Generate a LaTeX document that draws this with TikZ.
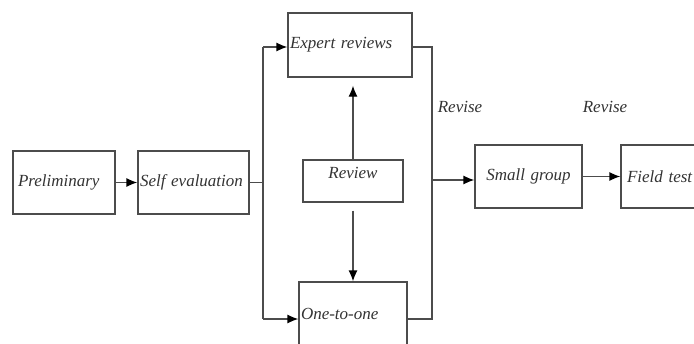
\documentclass[tikz,border=0pt]{standalone}
\usepackage{fontspec}
\setmainfont{Liberation Serif}
\usetikzlibrary{positioning}
\usetikzlibrary{arrows.meta}

\begin{document}
\begin{tikzpicture}[x=1pt, y=-1pt,
		stage/.style={draw=black!70, line width=1.3pt, inner xsep=2pt, align=left,
			font=\fontsize{17}{20}\selectfont\itshape, text=black!80},
		note/.style={font=\fontsize{17}{20}\selectfont\itshape, text=black!80},
		wire/.style={draw=black!70, line width=1.3pt},
		flow/.style={wire, -{Latex[length=11pt,width=9pt,black]}}
		]
		\useasboundingbox (0,0) rectangle (694,343);
		\clip (0,0) rectangle (694,343);
		
		\node[stage, text width=98pt, minimum height=63pt] (prelim) at (64,182.5) {\hspace{3pt}Preliminary};
		\node[stage, text width=107pt, minimum height=63pt] (selfev) at (193.5,182.5) {Self evaluation};
		\node[stage, text width=120pt, minimum height=64pt] (expert) at (350,45) {Expert reviews};
		\node[stage, text width=96pt, minimum height=42pt, align=center, text depth=16pt] (review) at (353,181) {Review};
		\node[stage, text width=104pt, minimum height=64pt] (onetoone) at (353,314) {One-to-one};
		\node[stage, text width=103pt, minimum height=63pt, align=center] (small) at (528.5,176.5) {Small group};
		\node[stage, text width=103pt, minimum height=63pt] (field) at (674.5,176.5) {\hspace{4pt}Field test};
		
		%revise labels
		\node[note] (revise1) at (460,107) {Revise};
		\node[note] (revise2) at (605,107) {Revise};
		
		%split and merge points
		\coordinate (splittop) at (263,47);
		\coordinate (splitbot) at (263,319);
		\coordinate (mergetop) at (432,47);
		\coordinate (mergebot) at (432,319);
		\coordinate (merge) at (432,180);
		
		\draw[flow] (prelim) -- (selfev);
		\draw[wire] (selfev.east) -- (selfev.east -| splittop);
		\draw[wire] (splittop) -- (splitbot);
		\draw[flow] (splittop) -- (splittop -| expert.west);
		\draw[flow] (splitbot) -- (splitbot -| onetoone.west);
		
		\draw[flow, shorten >=8pt] (review.north) -- (review.north |- expert.south);
		\draw[flow, shorten <=8pt] (review.south) -- (onetoone.north);
		
		\draw[wire] (mergetop -| expert.east) -- (mergetop) -- (mergebot) -- (mergebot -| onetoone.east);
		\draw[flow] (merge) -- (merge -| small.west);
		\draw[flow] (small) -- (field);
	\end{tikzpicture}
\end{document}
